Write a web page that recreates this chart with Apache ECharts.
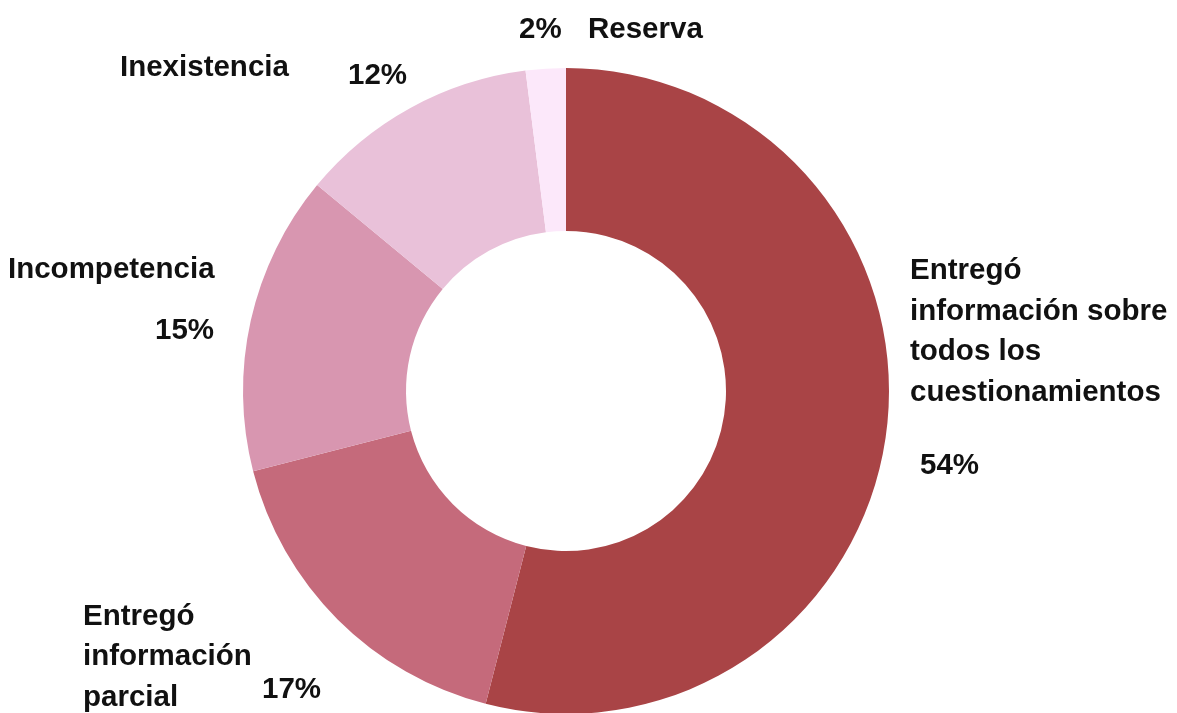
<!DOCTYPE html>
<html>
<head>
<meta charset="utf-8">
<script src="https://cdn.jsdelivr.net/npm/echarts@6/dist/echarts.min.js"></script>
<style>
html,body{margin:0;padding:0;background:#fff;}
#chart{width:1177px;height:713px;}
</style>
</head>
<body>
<div id="chart"></div>
<script>
const categories = [
  "Entregó\ninformación sobre\ntodos los\ncuestionamientos",
  "Entregó\ninformación\nparcial",
  "Incompetencia",
  "Inexistencia",
  "Reserva"
];
const values = [54, 17, 15, 12, 2];
const colors = ["#A94446", "#C56A7B", "#D896B0", "#E9C1D9", "#FCE8FA"];

// label placement (styling only)
const namePos = [[910, 332], [83, 657], [8, 270], [120, 68], [588, 30]];
const pctPos = [[920, 466], [262, 690], [155, 331], [348, 76], [519, 30]];

const data = categories.map((c, i) => ({ name: c, value: values[i], itemStyle: { color: colors[i] } }));

const chart = echarts.init(document.getElementById('chart'));
const font = { fontFamily: 'Liberation Sans, Arial, sans-serif', fontWeight: 'bold', fontSize: 29.5, color: '#111', overflow: 'none' };

chart.setOption({
  animation: false,
  backgroundColor: '#fff',
  series: [
    {
      type: 'pie',
      center: [566, 391],
      radius: [160, 323],
      startAngle: 90,
      clockwise: true,
      silent: true,
      data: data,
      itemStyle: { borderWidth: 0 },
      label: Object.assign({ show: true, formatter: '{b}', lineHeight: 40.5 }, font),
      labelLine: { show: false },
      labelLayout: function (p) {
        const pos = namePos[p.dataIndex];
        return { x: pos[0], y: pos[1], align: 'left', verticalAlign: 'middle' };
      }
    },
    {
      type: 'pie',
      center: [566, 391],
      radius: [160, 323],
      startAngle: 90,
      clockwise: true,
      silent: true,
      data: data.map(d => ({ name: d.name, value: d.value, itemStyle: { color: 'rgba(0,0,0,0)' } })),
      label: Object.assign({ show: true, formatter: '{d}%' }, font),
      labelLine: { show: false },
      labelLayout: function (p) {
        const pos = pctPos[p.dataIndex];
        return { x: pos[0], y: pos[1], align: 'left', verticalAlign: 'middle' };
      }
    }
  ]
});
</script>
</body>
</html>
